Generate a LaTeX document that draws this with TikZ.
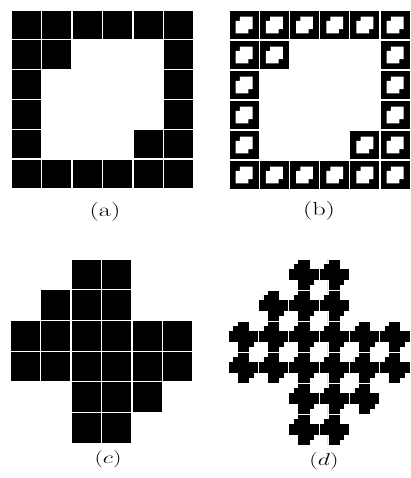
\documentclass[tikz,border=0pt]{standalone}
\usepackage{tikz}
\usepackage{graphicx}
\begin{document}
\def\patA{0/0,0/1,0/2,0/3,0/4,0/5,1/0,1/1,1/5,2/0,2/5,3/0,3/5,4/0,4/4,4/5,5/0,5/1,5/2,5/3,5/4,5/5}
\def\patC{0/2,0/3,1/1,1/2,1/3,2/0,2/1,2/2,2/3,2/4,2/5,3/0,3/1,3/2,3/3,3/4,3/5,4/2,4/3,4/4,5/2,5/3}
\newcommand{\widelbl}[1]{\scalebox{1.38}[1]{#1}}
\begin{tikzpicture}[x=1pt,y=-1pt,
  blk/.style={fill=black,draw=white,line width=1.1pt},
  crossblk/.style={fill=black,draw=white,line width=0.5pt},
  lbl/.style={font=\fontsize{19}{22}\selectfont, inner sep=0pt}]
\fill[white] (0,0) rectangle (410,478);
\useasboundingbox (0,0) rectangle (410,478);
% panel (a)
\foreach \r/\c in \patA {
  \filldraw[blk] ({11+\c*30.5},{10+\r*29.8}) rectangle ++(30.5,29.8);
}
% panel (b)
\foreach \r/\c in \patA {
  \begin{scope}[shift={({229+\c*30.2},{10+\r*30})}, x=30.2pt, y=-30pt]
    \filldraw[blk] (0,0) rectangle (1,1);
    \fill[white] (0.36,0.22) -- (0.78,0.22) -- (0.78,0.64) -- (0.64,0.64)
      -- (0.64,0.78) -- (0.22,0.78) -- (0.22,0.36) -- (0.36,0.36) -- cycle;
  \end{scope}
}
% panel (c)
\foreach \r/\c in \patC {
  \filldraw[blk] ({10+\c*30.5},{259+\r*30.7}) rectangle ++(30.5,30.7);
}
% panel (d)
\foreach \r/\c in \patC {
  \begin{scope}[shift={({228+\c*30.3},{259+\r*31})}, x=5.05pt, y=-5.17pt]
    \filldraw[crossblk] (1.8,0) -- (4.2,0) -- (4.2,1.8) -- (6,1.8) -- (6,4.2)
      -- (5.1,4.2) -- (5.1,5.1) -- (4.2,5.1) -- (4.2,6) -- (1.8,6) -- (1.8,4.2)
      -- (0,4.2) -- (0,1.8) -- (0.9,1.8) -- (0.9,0.9) -- (1.8,0.9) -- cycle;
  \end{scope}
}
\node[lbl] (la) at (105,212) {\widelbl{(a)}};
\node[lbl] (lb) at (319,211) {\widelbl{(b)}};
\node[lbl] (lc) at (108,459) {\widelbl{$(c)$}};
\node[lbl] (ld) at (324,461) {\widelbl{$(d)$}};
\end{tikzpicture}
\end{document}
